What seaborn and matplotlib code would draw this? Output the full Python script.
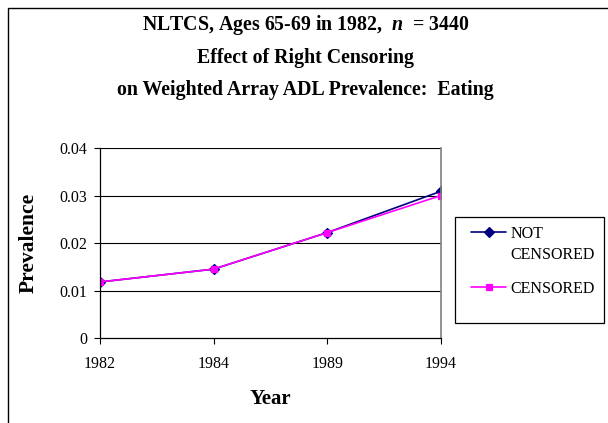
import matplotlib
matplotlib.use("Agg")
import matplotlib.pyplot as plt
from matplotlib.patches import Rectangle
from matplotlib.offsetbox import HPacker
import seaborn as sns
import pandas as pd

years = ["1982", "1984", "1989", "1994"]
not_censored = [0.0118, 0.0145, 0.0222, 0.0309]
censored = [0.0118, 0.0145, 0.0222, 0.0300]
series_names = ["NOT\nCENSORED", "CENSORED"]
yticks = [0, 0.01, 0.02, 0.03, 0.04]
ytick_labels = ["0", "0.01", "0.02", "0.03", "0.04"]
title_lines = ["NLTCS, Ages 65-69 in 1982,  $n$  = 3440",
               "Effect of Right Censoring",
               "on Weighted Array ADL Prevalence:  Eating"]

df = pd.DataFrame({
    "Year": years * 2,
    "Prevalence": not_censored + censored,
    "Series": [series_names[0]] * len(years) + [series_names[1]] * len(years),
})

sns.set_theme(style="white")
plt.rcParams["font.family"] = ["Liberation Serif", "DejaVu Serif"]
plt.rcParams["mathtext.fontset"] = "custom"
plt.rcParams["mathtext.it"] = "Liberation Serif:bold:italic"
plt.rcParams["mathtext.rm"] = "Liberation Serif:bold"

fig = plt.figure(figsize=(6.08, 4.23), dpi=100)
fig.patch.set_facecolor("white")
ax = fig.add_axes([100 / 608, 1 - 338 / 423, 341 / 608, 190 / 423])

sns.pointplot(data=df, x="Year", y="Prevalence", hue="Series", order=years,
              hue_order=series_names, palette=["#000080", "#FF00FF"],
              markers=["D", "s"], linestyles=["-", "-"], ax=ax,
              markersize=5, linewidth=1.2, errorbar=None)

ax.set_xlim(0, len(years) - 1)
ax.set_ylim(0, 0.04)
ax.set_yticks(yticks)
ax.set_yticklabels(ytick_labels)
for y in yticks[1:]:
    ax.axhline(y, color="black", lw=0.8, zorder=0)

ax.tick_params(axis="both", direction="out", length=4, width=0.8, color="black",
               labelsize=11.5, labelcolor="black", bottom=True, left=True)
ax.tick_params(axis="x", pad=9)
ax.tick_params(axis="y", pad=5)
for s in ["left", "bottom"]:
    ax.spines[s].set_color("black")
    ax.spines[s].set_linewidth(0.9)
ax.spines["top"].set_visible(False)
ax.spines["right"].set_color("#808080")
ax.spines["right"].set_linewidth(1.2)
ax.grid(False)

ax.set_xlabel("Year", fontsize=15, fontweight="bold", color="black")
ax.set_ylabel("Prevalence", fontsize=15.5, fontweight="bold", color="black")
ax.xaxis.set_label_coords(0.5, -0.268)
ax.yaxis.set_label_coords(-0.18, 0.5)

handles, labels = ax.get_legend_handles_labels()
ax.get_legend().remove()
leg = fig.legend(handles, labels, loc="upper left",
                 bbox_to_anchor=(471 / 608, 1 - 226 / 423),
                 bbox_transform=fig.transFigure, frameon=False, fontsize=11.5,
                 handlelength=2.2, handletextpad=0.25, labelspacing=1.1,
                 borderpad=0, borderaxespad=0)
for t in leg.get_texts():
    t.set_color("black")
    t.set_linespacing(1.45)
for hp in leg.findobj(HPacker):
    hp.align = "top"

fig.patches.append(Rectangle((455 / 608, 1 - 323 / 423), 149 / 608, 106 / 423,
                             transform=fig.transFigure, fill=False,
                             edgecolor="black", lw=0.9))
fig.patches.append(Rectangle((8 / 608, -0.1), 1.2, 1.1 - 8 / 423 + 0.0,
                             transform=fig.transFigure, fill=False,
                             edgecolor="black", lw=1.0, clip_on=False))

fig.text(0.503, 1 - 13 / 423, "\n".join(title_lines), ha="center", va="top",
         fontsize=14.3, fontweight="bold", linespacing=1.76, color="black")

fig.savefig("out.png", dpi=100, facecolor="white")
